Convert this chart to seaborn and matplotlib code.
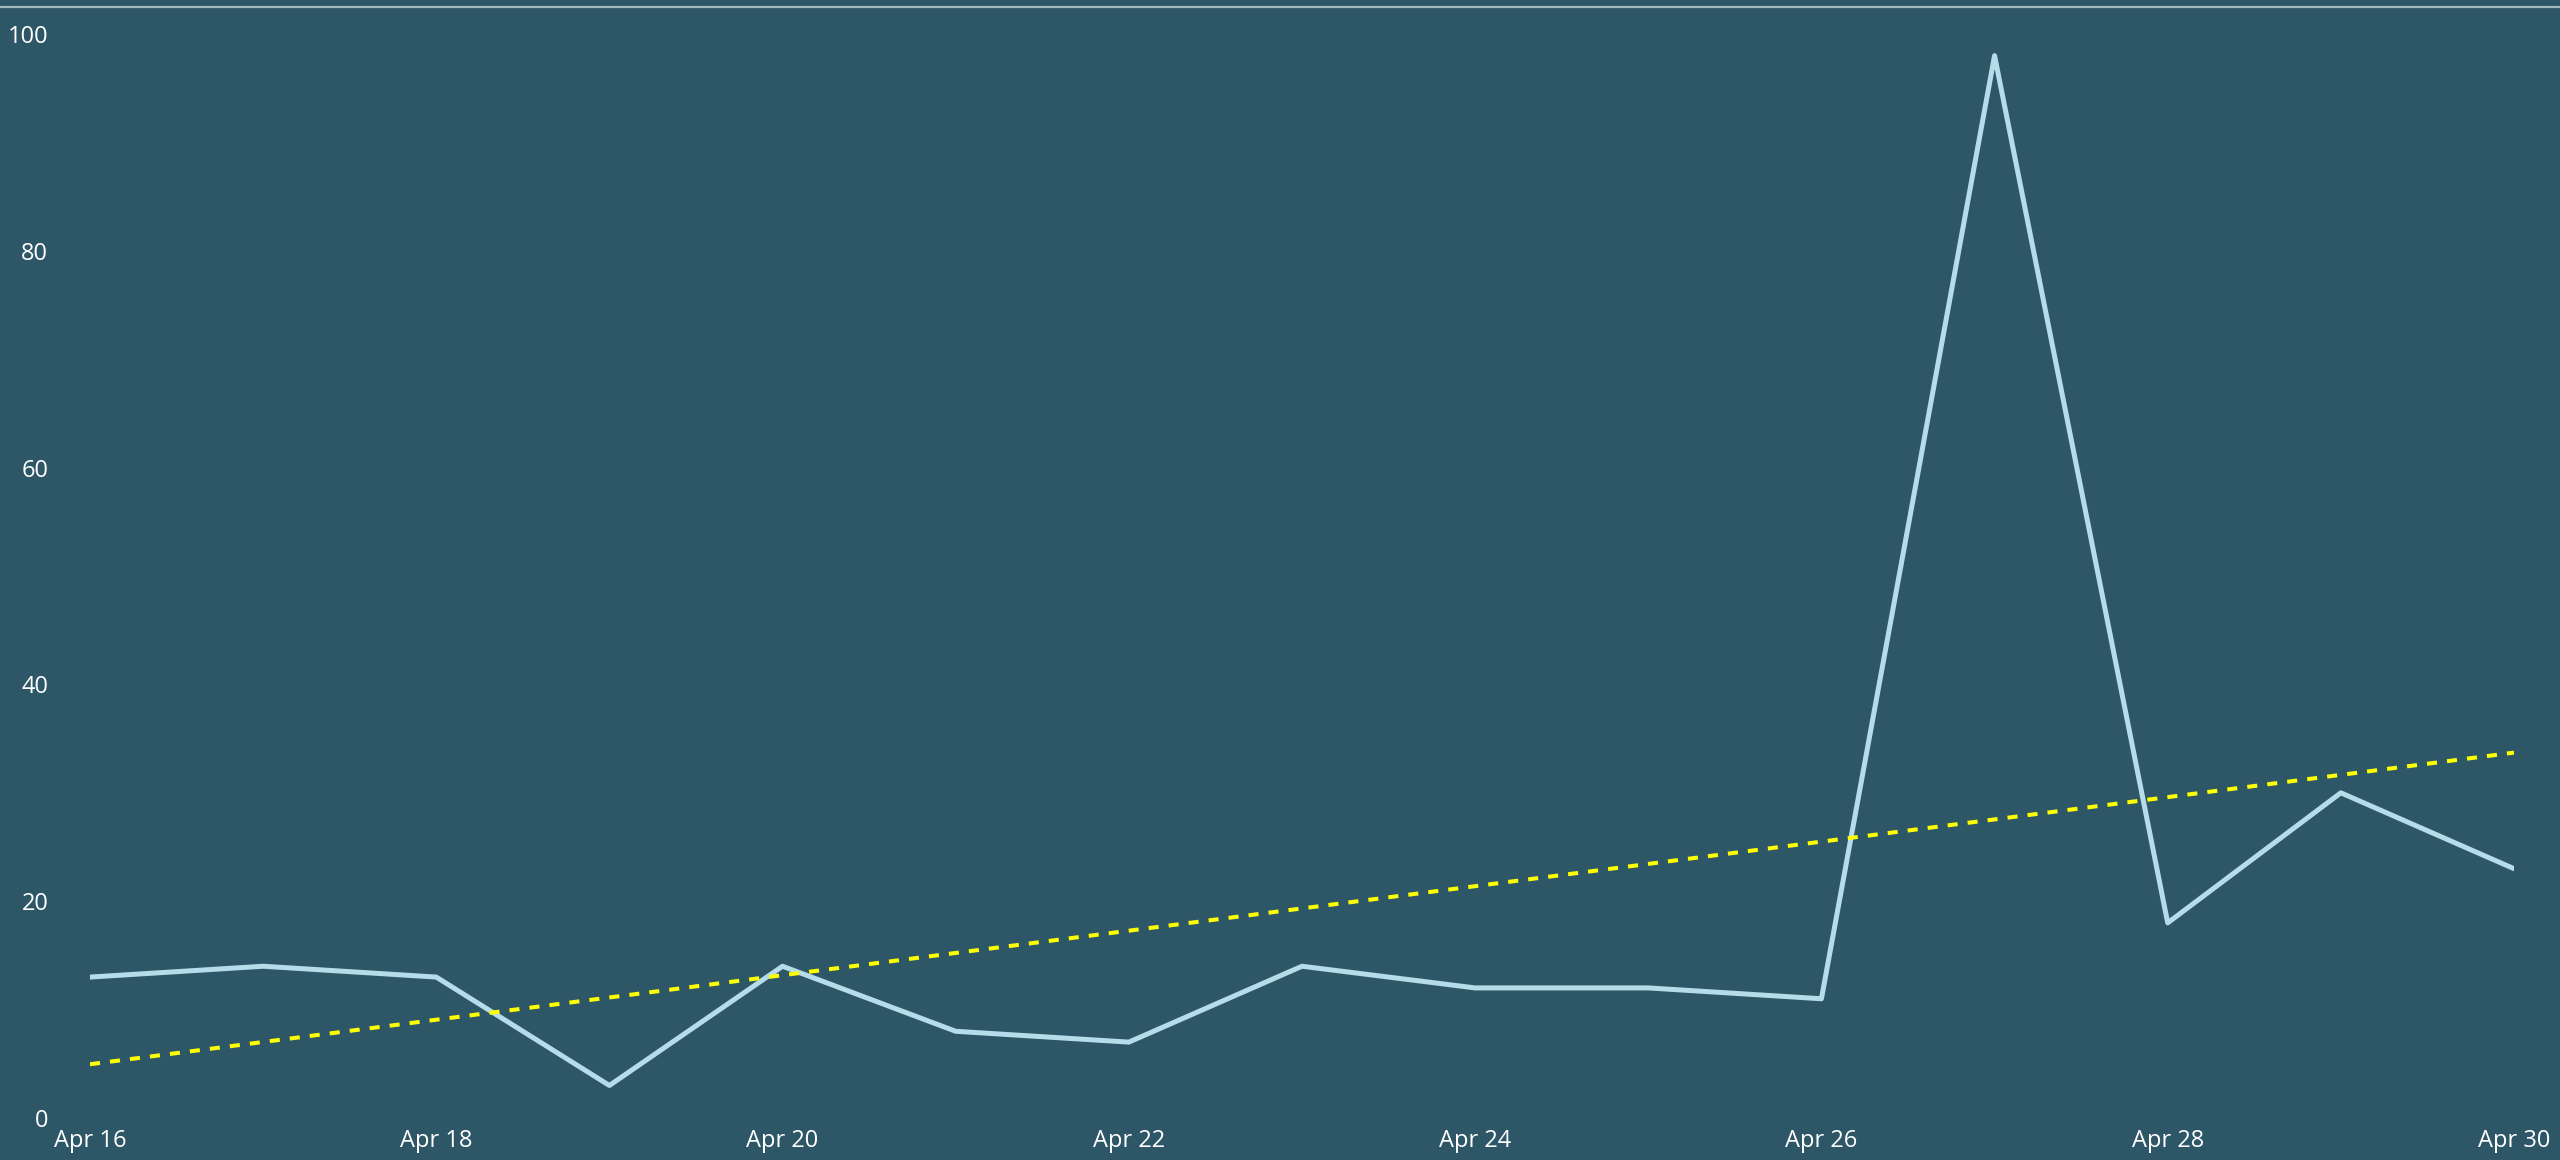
import pandas as pd
import numpy as np
import seaborn as sns
import matplotlib.pyplot as plt
import matplotlib.dates as mdates
from matplotlib.lines import Line2D

# Daily values
dates = ["2024-04-16", "2024-04-17", "2024-04-18", "2024-04-19", "2024-04-20",
         "2024-04-21", "2024-04-22", "2024-04-23", "2024-04-24", "2024-04-25",
         "2024-04-26", "2024-04-27", "2024-04-28", "2024-04-29", "2024-04-30"]
counts = [13, 14, 13, 3, 14, 8, 7, 14, 12, 12, 11, 98, 18, 30, 23]
y_ticks = [0, 20, 40, 60, 80, 100]

bg = "#2D5767"
line_color = "#B5DCE8"
trend_color = "#FFFF00"

df = pd.DataFrame({"date": pd.to_datetime(dates), "count": counts})

# linear trend fitted to the daily counts
idx = np.arange(len(df))
slope, intercept = np.polyfit(idx, df["count"], 1)
df["trend"] = intercept + slope * idx

sns.set_theme(style="dark")
plt.rcParams["font.family"] = ["Open Sans", "DejaVu Sans"]

fig = plt.figure(figsize=(25.6, 11.6), dpi=100, facecolor=bg)
ax = fig.add_axes([90 / 2560, 42 / 1160, (2514 - 90) / 2560, (1118 - 34) / 1160])
ax.set_facecolor(bg)

sns.lineplot(data=df, x="date", y="count", ax=ax, color=line_color, linewidth=3.6)
sns.lineplot(data=df, x="date", y="trend", ax=ax, color=trend_color, linewidth=2.9,
             dashes=False)
ax.lines[-1].set_dashes((2.5, 2.5))

ax.set_xlim(df["date"].iloc[0], df["date"].iloc[-1])
ax.set_ylim(0, 100)
ax.set_yticks(y_ticks)
ax.set_xticks(df["date"].iloc[::2])
ax.xaxis.set_major_formatter(mdates.DateFormatter("%b %d"))
ax.tick_params(axis="both", colors="white", labelsize=17, length=0)
ax.tick_params(axis="y", pad=30)
ax.tick_params(axis="x", pad=8)
ax.set_xlabel("")
ax.set_ylabel("")
ax.grid(False)
for s in ax.spines.values():
    s.set_visible(False)

# thin separator line along the top of the figure
fig.add_artist(Line2D([0, 1], [1 - 7 / 1160, 1 - 7 / 1160], transform=fig.transFigure,
                      color="#A3B8BF", linewidth=1.6))

fig.savefig("out.png", dpi=100, facecolor=bg)
